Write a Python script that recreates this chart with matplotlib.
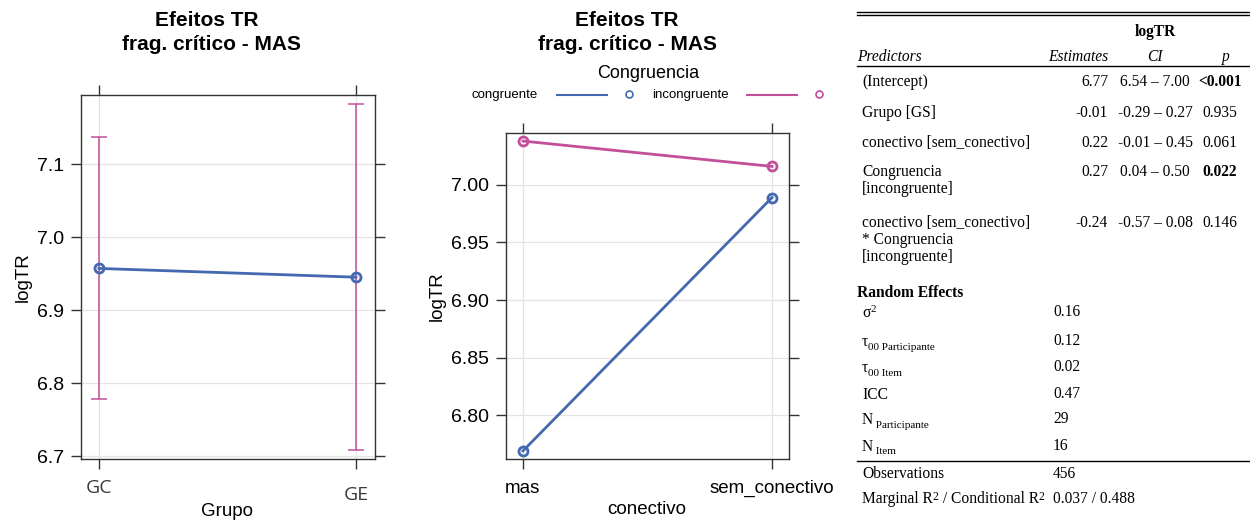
import matplotlib
matplotlib.use("Agg")
import matplotlib.pyplot as plt

W, H = 1250, 520
BLUE = "#4469b0"
MAG = "#c24f9a"
GRID = "#e4e4e4"
SANS = ["Liberation Sans", "DejaVu Sans"]
SERIF = ["Liberation Serif", "DejaVu Serif"]
TFS = 11.2  # tamanho da fonte da tabela

# ---- dados ----
grupos = ["GC", "GE"]
grupo_fit = [6.957, 6.945]
grupo_lo = [6.778, 6.708]
grupo_hi = [7.137, 7.182]

conectivos = ["mas", "sem_conectivo"]
congruencia = ["congruente", "incongruente"]
fit_congruente = [6.769, 6.989]
fit_incongruente = [7.038, 7.016]

preditores = ["(Intercept)", "Grupo [GS]", "conectivo [sem_conectivo]",
              "Congruencia\n[incongruente]",
              "conectivo [sem_conectivo]\n* Congruencia\n[incongruente]"]
estimates = ["6.77", "-0.01", "0.22", "0.27", "-0.24"]
ci = ["6.54 – 7.00", "-0.29 – 0.27", "-0.01 – 0.45", "0.04 – 0.50", "-0.57 – 0.08"]
pvals = ["<0.001", "0.935", "0.061", "0.022", "0.146"]
p_bold = [True, False, False, True, False]

re_main = ["σ", "τ", "τ", "ICC", "N", "N"]
re_script = ["2", "00 Participante", "00 Item", "", " Participante", " Item"]
re_vals = ["0.16", "0.12", "0.02", "0.47", "29", "16"]

fig = plt.figure(figsize=(W / 100, H / 100), dpi=100)
rend = fig.canvas.get_renderer()


def px_axes(x0, y0, x1, y1):
    return fig.add_axes([x0 / W, 1 - y1 / H, (x1 - x0) / W, (y1 - y0) / H])


def ftext(x, y, s, **kw):
    kw.setdefault("va", "center")
    return fig.text(x / W, 1 - y / H, s, **kw)


def right_px(t):
    return t.get_window_extent(renderer=rend).x1


def hline(y, x0=857, x1=1250):
    fig.add_artist(plt.Line2D([x0 / W, x1 / W], [1 - y / H] * 2, color="black", lw=1))


def lattice_style(ax):
    for sp in ax.spines.values():
        sp.set_color("#333333"); sp.set_linewidth(1.0)
    ax.tick_params(direction="out", length=7, width=1, color="#333333",
                   top=True, right=True, labeltop=False, labelright=False,
                   labelsize=14, pad=5)
    for t in ax.get_yticklabels():
        t.set_fontfamily(SANS)
    ax.grid(True, color=GRID, lw=0.9)
    ax.set_axisbelow(True)


# ---------- painel 1: Grupo ----------
ax1 = px_axes(81, 95, 375, 459)
xs = range(len(grupos))
ax1.errorbar(xs, grupo_fit,
             yerr=[[f - l for f, l in zip(grupo_fit, grupo_lo)],
                   [h - f for f, h in zip(grupo_fit, grupo_hi)]],
             fmt="none", ecolor=MAG, elinewidth=1.1, capsize=6, capthick=1.1, zorder=2)
ax1.plot(xs, grupo_fit, color=BLUE, lw=2, marker="o", ms=6.5, mfc="none",
         mew=2, zorder=3)
ax1.set_xlim(-0.07, 1.074)
ax1.set_ylim(6.696, 7.1945)
ax1.set_yticks([6.7, 6.8, 6.9, 7.0, 7.1])
ax1.set_xticks(list(xs))
ax1.set_xticklabels(["", ""])
lattice_style(ax1)
ax1.set_ylabel("logTR", fontsize=13.5, family=SANS, labelpad=4)
ftext(99, 488, grupos[0], ha="center", fontsize=14, family=["Open Sans", "DejaVu Sans"], color="#3a3a3a")
ftext(356, 495, grupos[1], ha="center", fontsize=14, family=["Open Sans", "DejaVu Sans"], color="#3a3a3a")
ftext(227, 511, "Grupo", ha="center", fontsize=13.5, family=SANS)
ftext(207, 21, "Efeitos TR", ha="center", fontsize=15, weight="bold", family=SANS)
ftext(212, 45, "frag. crítico - MAS", ha="center", fontsize=15, weight="bold", family=SANS)

# ---------- painel 2: conectivo x Congruencia ----------
ax2 = px_axes(506, 133, 789, 459)
xs2 = range(len(conectivos))
ax2.plot(xs2, fit_congruente, color=BLUE, lw=2, marker="o", ms=6.5, mfc="none",
         mew=2, zorder=3)
ax2.plot(xs2, fit_incongruente, color=MAG, lw=2, marker="o", ms=6.5, mfc="none",
         mew=2, zorder=3)
ax2.set_xlim(-0.068, 1.068)
ax2.set_ylim(6.762, 7.045)
ax2.set_yticks([6.80, 6.85, 6.90, 6.95, 7.00])
ax2.set_yticklabels(["6.80", "6.85", "6.90", "6.95", "7.00"])
ax2.set_xticks(list(xs2))
ax2.set_xticklabels(conectivos, family=SANS)
lattice_style(ax2)
ax2.tick_params(axis="x", pad=8, labelsize=13.5)
ax2.set_ylabel("logTR", fontsize=13.5, family=SANS, labelpad=4)
ftext(647, 510, "conectivo", ha="center", fontsize=13.5, family=SANS)
ftext(627, 21, "Efeitos TR", ha="center", fontsize=15, weight="bold", family=SANS)
ftext(627, 45, "frag. crítico - MAS", ha="center", fontsize=15, weight="bold", family=SANS)

# legenda manual (estilo lattice)
ftext(648, 74, "Congruencia", ha="center", fontsize=13, family=SANS)
for lab, col, xt, xl0, xl1, xc in [(congruencia[0], BLUE, 505, 557, 607, 629),
                                   (congruencia[1], MAG, 690, 747, 797, 819)]:
    ftext(xt, 95, lab, ha="center", fontsize=9.5, family=SANS)
    fig.add_artist(plt.Line2D([xl0 / W, xl1 / W], [1 - 95 / H] * 2, color=col, lw=1.5))
    fig.add_artist(plt.Line2D([xc / W], [1 - 94 / H], color=col, marker="o", ms=5,
                              mfc="none", mew=1.2))

# ---------- tabela ----------
hline(12); hline(15)
ftext(1155, 32, "logTR", ha="center", fontsize=TFS, weight="bold", family=SERIF)
ftext(857, 57, "Predictors", ha="left", fontsize=TFS, style="italic", family=SERIF)
ftext(1108, 57, "Estimates", ha="right", fontsize=TFS, style="italic", family=SERIF)
ftext(1155, 57, "CI", ha="center", fontsize=TFS, style="italic", family=SERIF)
ftext(1226, 57, "p", ha="center", fontsize=TFS, style="italic", family=SERIF)
hline(66)

row_y = [82, 113, 143, 172, 223]
for yy, pred, est, c, p, b in zip(row_y, preditores, estimates, ci, pvals, p_bold):
    for k, line in enumerate(pred.split("\n")):
        ftext(862, yy + k * 17, line, ha="left", fontsize=TFS, family=SERIF)
    ftext(1108, yy, est, ha="right", fontsize=TFS, family=SERIF)
    ftext(1155, yy, c, ha="center", fontsize=TFS, family=SERIF)
    ftext(1220, yy, p, ha="center", fontsize=TFS, family=SERIF,
          weight="bold" if b else "normal")

ftext(857, 293, "Random Effects", ha="left", fontsize=TFS, weight="bold", family=SERIF)
re_y = [313, 342, 368, 395, 420, 447]
for m, s, v, yy in zip(re_main, re_script, re_vals, re_y):
    t = ftext(862, yy, m, ha="left", fontsize=TFS, family=SERIF)
    if s:
        dy = -3 if m == "σ" else 5
        fig.text(right_px(t) / W, 1 - (yy + dy) / H, s, ha="left", va="center",
                 fontsize=8, family=SERIF)
    ftext(1053, yy - 1, v, ha="left", fontsize=TFS, family=SERIF)

hline(461)
ftext(862, 474, "Observations", ha="left", fontsize=TFS, family=SERIF)
ftext(1053, 474, "456", ha="left", fontsize=TFS, family=SERIF)
x = 862
for part, sup in [("Marginal R", "2"), (" / Conditional R", "2")]:
    t = fig.text(x / W, 1 - 499 / H, part, ha="left", va="center", fontsize=TFS, family=SERIF)
    x = right_px(t)
    t = fig.text(x / W, 1 - 497 / H, sup, ha="left", va="center", fontsize=8.5, family=SERIF)
    x = right_px(t)
ftext(1053, 499, "0.037 / 0.488", ha="left", fontsize=TFS, family=SERIF)

fig.savefig("out.png", dpi=100, facecolor="white")
